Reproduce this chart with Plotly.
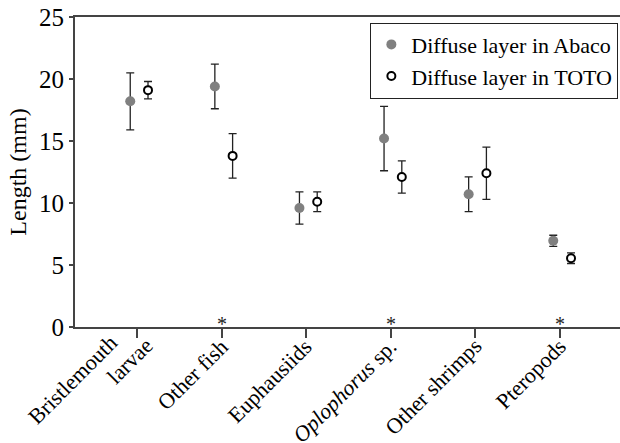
import plotly.graph_objects as go

# Prey categories and mean lengths (mm) with error-bar half widths
categories = ["Bristlemouth<br>larvae", "Other fish", "Euphausiids",
              "<i>Oplophorus</i> sp.", "Other shrimps", "Pteropods"]
abaco_mean = [18.2, 19.4, 9.6, 15.2, 10.7, 6.95]
abaco_err = [2.3, 1.8, 1.3, 2.6, 1.4, 0.45]
toto_mean = [19.1, 13.8, 10.1, 12.1, 12.4, 5.55]
toto_err = [0.7, 1.8, 0.8, 1.3, 2.1, 0.43]
significant = [False, True, False, True, False, True]
y_ticks = [0, 5, 10, 15, 20, 25]

pos = list(range(1, len(categories) + 1))
FONT = "Liberation Serif, Times New Roman, serif"

fig = go.Figure()
fig.add_trace(go.Scatter(
    x=[p - 0.08 for p in pos], y=abaco_mean, mode="markers",
    name="Diffuse layer in Abaco",
    marker=dict(color="#808080", size=10, line=dict(width=0)),
    error_y=dict(type="data", array=abaco_err, color="#222222",
                 thickness=1.3, width=4),
))
fig.add_trace(go.Scatter(
    x=[p + 0.13 for p in pos], y=toto_mean, mode="markers",
    name="Diffuse layer in TOTO",
    marker=dict(color="white", size=8, line=dict(color="black", width=2)),
    error_y=dict(type="data", array=toto_err, color="#222222",
                 thickness=1.3, width=4),
))

# Significance marks sitting on the baseline
for p, s in zip(pos, significant):
    if s:
        fig.add_annotation(x=p, y=0, xref="x", yref="y", text="*",
                           showarrow=False, yanchor="middle", yshift=3,
                           font=dict(family=FONT, size=20, color="#222222"))

# Slanted category labels under each tick; a two-line label is staggered
for p, label in zip(pos, categories):
    lines = label.split("<br>")
    if len(lines) == 1:
        shifts = [(14, -4)]
    else:
        shifts = [(-12, 0), (24, -3)]
    for line, (dx, dy) in zip(lines, shifts):
        fig.add_annotation(x=p, y=0, xref="x", yref="y", text=line,
                           showarrow=False, textangle=-45,
                           xanchor="right", yanchor="top",
                           xshift=dx, yshift=dy,
                           font=dict(family=FONT, size=22, color="black"))

fig.update_layout(
    width=620, height=443,
    margin=dict(l=75, r=0, t=17, b=116),
    paper_bgcolor="white", plot_bgcolor="white",
    font=dict(family=FONT, color="black"),
    showlegend=True,
    legend=dict(x=0.997, y=0.982, xanchor="right", yanchor="top",
                bordercolor="#222222", borderwidth=1, bgcolor="white",
                font=dict(size=22), tracegroupgap=0, itemwidth=30),
)
fig.update_xaxes(
    range=[0.267, 6.709], tickmode="array", tickvals=pos,
    showticklabels=False, showline=True, linecolor="#444444",
    linewidth=2, mirror=True, ticks="outside", ticklen=9, tickcolor="#444444",
    tickwidth=1.5, showgrid=False, zeroline=False, automargin=False,
)
fig.update_yaxes(
    range=[0, 25], tickvals=y_ticks, tickfont=dict(size=25),
    title=dict(text="Length (mm)", font=dict(size=24), standoff=6),
    showline=True, linecolor="#444444", linewidth=2, ticks="outside",
    ticklen=4, tickcolor="#444444", tickwidth=1.5, showgrid=False,
    zeroline=False, automargin=False,
)

fig.write_html("out.html")
